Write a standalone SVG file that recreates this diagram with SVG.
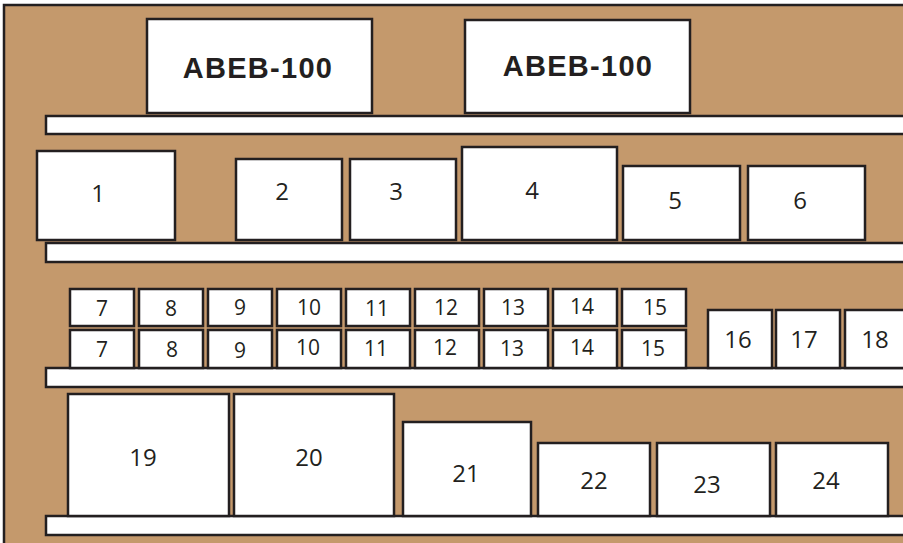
<svg xmlns="http://www.w3.org/2000/svg" width="903" height="543" viewBox="0 0 903 543">
<style>
.bx{fill:#fff;stroke:#231f20;stroke-width:2.5}
.sh{fill:#fff;stroke:#231f20;stroke-width:2.5}
.t{font-family:"Open Sans","Noto Sans",sans-serif;fill:#231f20;text-anchor:middle}
.l{font-size:24px}
.s{font-size:21px}
.h{font-family:"Liberation Sans",Arial,sans-serif;font-weight:bold;font-size:29px;letter-spacing:1.3px;fill:#231f20;text-anchor:middle}
</style>
<rect x="0" y="0" width="903" height="543" fill="#fff"/>
<rect x="4" y="5" width="905" height="545" fill="#c4996c" stroke="#231f20" stroke-width="2.5"/>
<g id="shelves">
<rect class="sh" x="46" y="116" width="870" height="18"/>
<rect class="sh" x="46" y="243" width="870" height="19"/>
<rect class="sh" x="46" y="368" width="870" height="19"/>
<rect class="sh" x="46" y="516" width="870" height="19"/>
</g>
<g id="abeb1"><rect class="bx" x="147" y="19" width="225" height="94"/><text class="h" x="258" y="78">ABEB-100</text></g>
<g id="abeb2"><rect class="bx" x="465" y="20" width="225" height="93"/><text class="h" x="578" y="76">ABEB-100</text></g>
<g id="n1"><rect class="bx" x="37" y="151" width="138" height="89"/><text class="t l" x="98" y="202">1</text></g>
<g id="n2"><rect class="bx" x="236" y="159" width="106" height="81"/><text class="t l" x="282" y="200">2</text></g>
<g id="n3"><rect class="bx" x="350" y="159" width="106" height="81"/><text class="t l" x="396" y="200">3</text></g>
<g id="n4"><rect class="bx" x="462" y="147" width="155" height="93"/><text class="t l" x="532" y="199">4</text></g>
<g id="n5"><rect class="bx" x="623" y="166" width="117" height="74"/><text class="t l" x="675" y="209">5</text></g>
<g id="n6"><rect class="bx" x="748" y="166" width="117" height="74"/><text class="t l" x="800" y="209">6</text></g>
<g id="n7a"><rect class="bx" x="70" y="289" width="64" height="37"/><text class="t s" x="102" y="316">7</text></g>
<g id="n8a"><rect class="bx" x="139" y="289" width="64" height="37"/><text class="t s" x="171" y="316">8</text></g>
<g id="n9a"><rect class="bx" x="208" y="289" width="64" height="37"/><text class="t s" x="240" y="315">9</text></g>
<g id="n10a"><rect class="bx" x="277" y="289" width="64" height="37"/><text class="t s" x="309" y="315">10</text></g>
<g id="n11a"><rect class="bx" x="346" y="289" width="64" height="37"/><text class="t s" x="377" y="316">11</text></g>
<g id="n12a"><rect class="bx" x="415" y="289" width="64" height="37"/><text class="t s" x="446" y="315">12</text></g>
<g id="n13a"><rect class="bx" x="484" y="289" width="64" height="37"/><text class="t s" x="513" y="315">13</text></g>
<g id="n14a"><rect class="bx" x="553" y="289" width="64" height="37"/><text class="t s" x="582" y="314">14</text></g>
<g id="n15a"><rect class="bx" x="622" y="289" width="64" height="37"/><text class="t s" x="655" y="315">15</text></g>
<g id="n7b"><rect class="bx" x="70" y="330" width="64" height="38"/><text class="t s" x="102" y="357">7</text></g>
<g id="n8b"><rect class="bx" x="139" y="330" width="64" height="38"/><text class="t s" x="172" y="357">8</text></g>
<g id="n9b"><rect class="bx" x="208" y="330" width="64" height="38"/><text class="t s" x="240" y="358">9</text></g>
<g id="n10b"><rect class="bx" x="277" y="330" width="64" height="38"/><text class="t s" x="308" y="355">10</text></g>
<g id="n11b"><rect class="bx" x="346" y="330" width="64" height="38"/><text class="t s" x="376" y="356">11</text></g>
<g id="n12b"><rect class="bx" x="415" y="330" width="64" height="38"/><text class="t s" x="445" y="355">12</text></g>
<g id="n13b"><rect class="bx" x="484" y="330" width="64" height="38"/><text class="t s" x="512" y="356">13</text></g>
<g id="n14b"><rect class="bx" x="553" y="330" width="64" height="38"/><text class="t s" x="582" y="355">14</text></g>
<g id="n15b"><rect class="bx" x="622" y="330" width="64" height="38"/><text class="t s" x="653" y="356">15</text></g>
<g id="n16"><rect class="bx" x="708" y="310" width="64" height="58"/><text class="t l" x="738" y="348">16</text></g>
<g id="n17"><rect class="bx" x="776" y="310" width="64" height="58"/><text class="t l" x="804" y="348">17</text></g>
<g id="n18"><rect class="bx" x="845" y="310" width="70" height="58"/><text class="t l" x="875" y="348">18</text></g>
<g id="n19"><rect class="bx" x="68" y="394" width="161" height="122"/><text class="t l" x="143" y="466">19</text></g>
<g id="n20"><rect class="bx" x="234" y="394" width="160" height="122"/><text class="t l" x="309" y="466">20</text></g>
<g id="n21"><rect class="bx" x="403" y="422" width="128" height="94"/><text class="t l" x="466" y="482">21</text></g>
<g id="n22"><rect class="bx" x="538" y="443" width="112" height="73"/><text class="t l" x="594" y="489">22</text></g>
<g id="n23"><rect class="bx" x="657" y="443" width="113" height="73"/><text class="t l" x="707" y="493">23</text></g>
<g id="n24"><rect class="bx" x="776" y="443" width="112" height="73"/><text class="t l" x="826" y="489">24</text></g>
<g id="connectors"></g>
</svg>
